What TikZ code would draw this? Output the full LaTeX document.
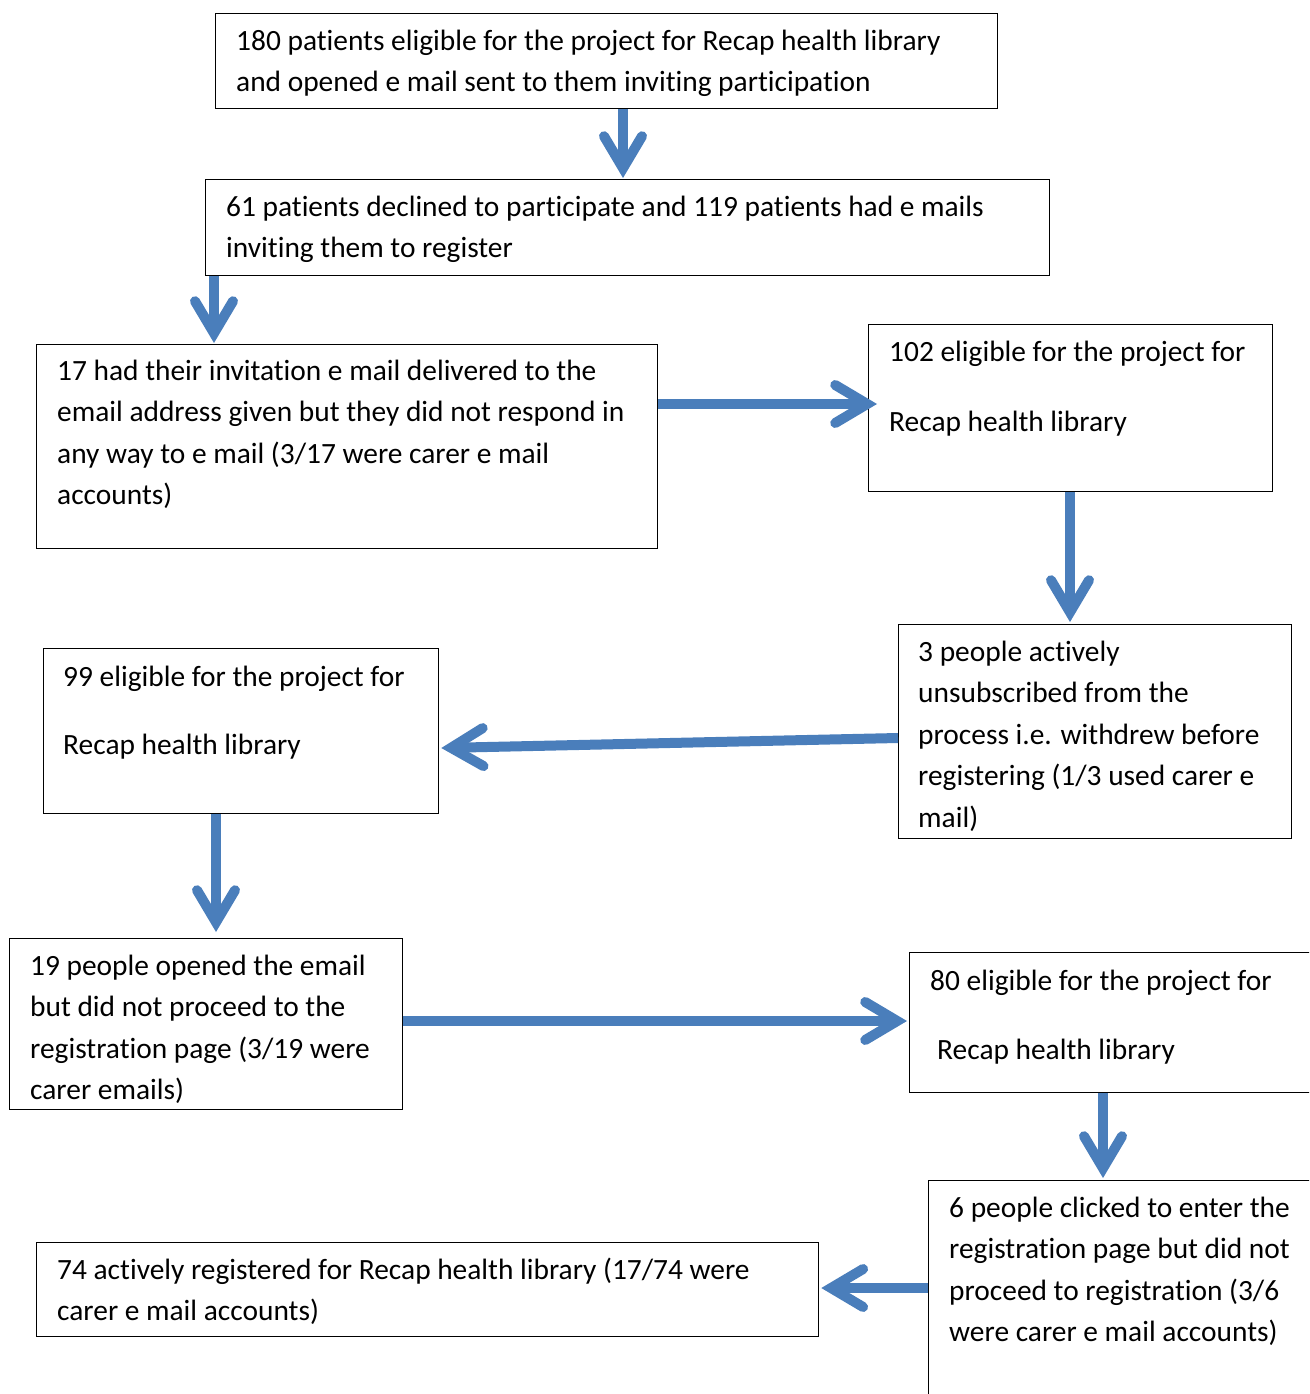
\documentclass[tikz,border=0pt]{standalone}
\usepackage{fontspec}
\setmainfont[Ligatures=NoCommon]{Carlito}
\usetikzlibrary{arrows.meta}
\definecolor{arrblue}{RGB}{74,126,187}
\tikzset{
  box/.style={draw=black, line width=1.3pt, rectangle, anchor=north west, inner sep=0pt},
  txt/.style={anchor=north west, inner sep=0pt, align=left, font=\fontsize{29.4}{41.5}\selectfont},
  arr/.style={draw=arrblue, line width=10pt,
    -{Straight Barb[length=32pt,width=38pt,line cap=round,line join=miter]}},
}
\begin{document}
\begin{tikzpicture}[x=1pt,y=-1pt]
\clip (0,0) rectangle (1309,1394);
% boxes
\node[box, minimum width=782pt, minimum height=95pt] (A) at (215,13) {};
\node[box, minimum width=844pt, minimum height=96pt] (B) at (205,179) {};
\node[box, minimum width=621pt, minimum height=204pt] (C) at (36,344) {};
\node[box, minimum width=404pt, minimum height=167pt] (D) at (868,324) {};
\node[box, minimum width=393pt, minimum height=214pt] (E) at (898,624) {};
\node[box, minimum width=395pt, minimum height=165pt] (F) at (43,648) {};
\node[box, minimum width=393pt, minimum height=171pt] (G) at (9,938) {};
\node[box, minimum width=406pt, minimum height=140pt] (H) at (909,952) {};
\node[box, minimum width=387pt, minimum height=220pt] (I) at (928,1180) {};
\node[box, minimum width=782pt, minimum height=94pt] (J) at (36,1242) {};
% texts
\node[txt] (tA) at (236,20.95) {\strut 180 patients eligible for the project for Recap health library\\and opened e mail sent to them inviting participation};
\node[txt] (tB) at (226,186.95) {\strut 61 patients declined to participate and 119 patients had e mails\\inviting them to register};
\node[txt] (tC) at (57,350.95) {\strut 17 had their invitation e mail delivered to the\\email address given but they did not respond in\\any way to e mail (3/17 were carer e mail\\accounts)};
\node[txt] (tD) at (889,331.95) {\strut 102 eligible for the project for\\[28.5pt]Recap health library};
\node[txt] (tE) at (918,631.95) {\strut 3 people actively\\unsubscribed from the\\process i.e. withdrew before\\registering (1/3 used carer e\\mail)};
\node[txt] (tF) at (63,656.95) {\strut 99 eligible for the project for\\[26.5pt]Recap health library};
\node[txt] (tG) at (30,945.95) {\strut 19 people opened the email\\but did not proceed to the\\registration page (3/19 were\\carer emails)};
\node[txt] (tH) at (930,960.95) {\strut 80 eligible for the project for\\[27.5pt]\hspace{7pt}Recap health library};
\node[txt] (tI) at (949,1187.95) {\strut 6 people clicked to enter the\\registration page but did not\\proceed to registration (3/6\\were carer e mail accounts)};
\node[txt] (tJ) at (57,1249.95) {\strut 74 actively registered for Recap health library (17/74 were\\carer e mail accounts)};
% connectors
\draw[arr] (A.south -| 623,0) -- ([yshift=1pt]B.north -| 623,0);
\draw[arr] (B.south -| 214,0) -- ([yshift=1pt]C.north -| 214,0);
\draw[arr] (C.east |- 0,404) -- ([xshift=9pt]D.west |- 0,404);
\draw[arr] (D.south -| 1070,0) -- ([yshift=2pt]E.north -| 1070,0);
\draw[arr] (E.west |- 0,738) -- ([xshift=2pt]F.east |- 0,748);
\draw[arr] (F.south -| 216,0) -- ([yshift=6pt]G.north -| 216,0);
\draw[arr] (G.east |- 0,1021) -- ([xshift=-2pt]H.west |- 0,1021);
\draw[arr] (H.south -| 1103,0) -- ([yshift=2pt]I.north -| 1103,0);
\draw[arr] (I.west |- 0,1288) -- ([xshift=2pt]J.east |- 0,1288);
\end{tikzpicture}
\end{document}
